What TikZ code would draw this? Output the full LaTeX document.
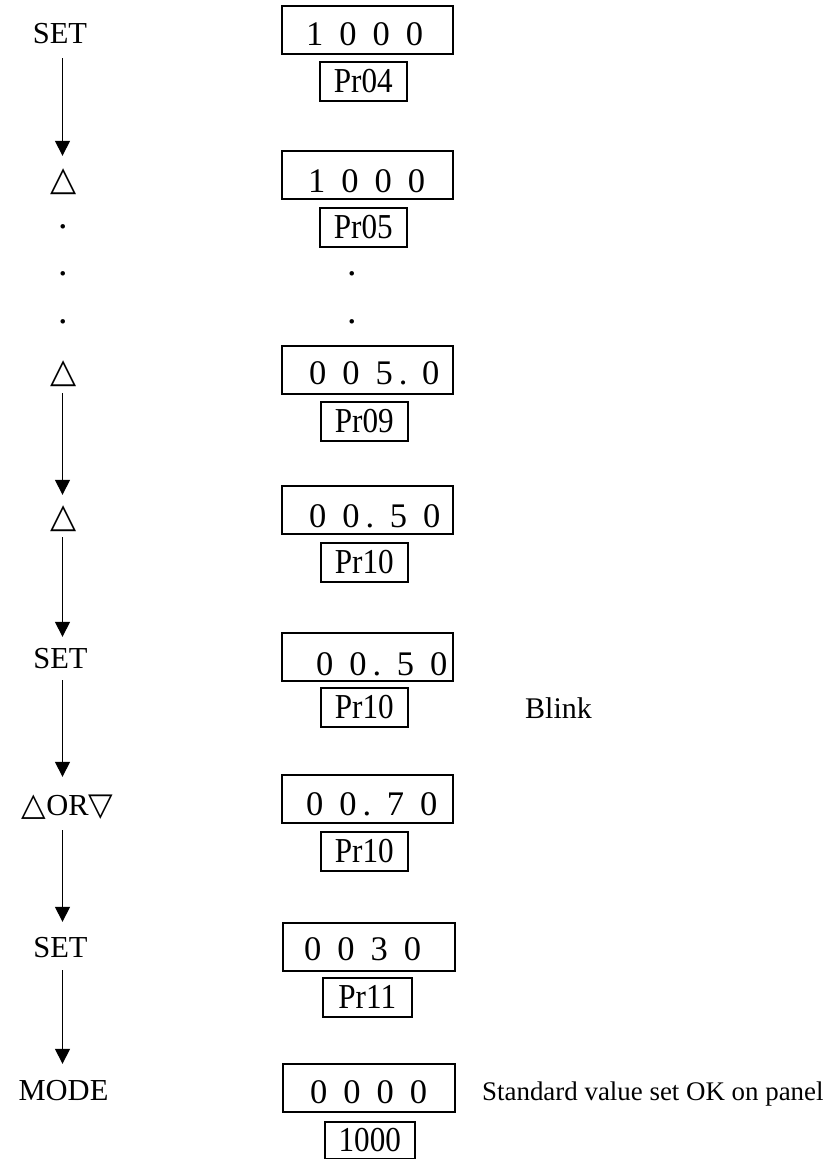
\documentclass[tikz,border=0pt]{standalone}
\usepackage{fontspec}
\setmainfont{Liberation Serif}
\newfontfamily\symfont{DejaVu Sans}
\usetikzlibrary{arrows.meta}
\newcommand{\cnd}[1]{\scalebox{0.89}[1]{#1}}
\newcommand{\gp}{\hspace{16pt}}
\begin{document}
\begin{tikzpicture}[x=1pt,y=-1pt,
  lbl/.style={font=\fontsize{30.5}{36}\selectfont, inner sep=0pt, text height=20pt, text depth=0pt, anchor=base},
  tri/.style={font=\symfont\fontsize{34}{40}\selectfont, inner sep=0pt, text height=24pt, text depth=0pt, anchor=base},
  flow/.style={line width=1.5pt, -{Triangle[width=15pt,length=15pt]}},
  disp/.style={draw, line width=1.5pt, minimum width=171pt, minimum height=48pt, inner sep=0pt, anchor=north west},
  prm/.style={draw, line width=1.5pt, minimum width=87pt, minimum height=39pt, inner sep=0pt, anchor=north west, font=\fontsize{35}{40}\selectfont},
  dig/.style={anchor=base west, inner sep=0pt, font=\fontsize{34.5}{40}\selectfont},
  dotc/.style={inner sep=0pt, font=\fontsize{38}{40}\selectfont},
  note/.style={anchor=base west, inner sep=0pt},
]
\useasboundingbox (0,0) rectangle (836,1159);
\coordinate (ax) at (62.5,0);

% left column
\node[lbl] (set1) at (60,43) {SET};
\node[tri] (up1) at (64,190) {△};
\node[dotc] (ld1) at (63,227) {.};
\node[dotc] (ld2) at (63,274) {.};
\node[dotc] (ld3) at (63,322) {.};
\node[tri] (up2) at (64,382) {△};
\node[tri] (up3) at (64,527) {△};
\node[lbl] (set2) at (60.5,668) {SET};
\node[lbl, text height=20pt] (updn) at (67.5,815) {{\symfont\fontsize{32}{36}\selectfont △}OR{\symfont\fontsize{32}{36}\selectfont ▽}};
\node[lbl] (set3) at (60.5,957) {SET};
\node[lbl] (mode) at (63.5,1100) {MODE};

\draw[flow, shorten <=15pt, shorten >=10pt] (set1.south -| ax) -- (up1.north -| ax);
\draw[flow, shorten <=11pt, shorten >=8pt] (up2.south -| ax) -- (up3.north -| ax);
\draw[flow, shorten <=10pt, shorten >=11pt] (up3.south -| ax) -- (set2.north -| ax);
\draw[flow, shorten <=12pt, shorten >=18pt] (set2.south -| ax) -- (updn.north -| ax);
\draw[flow, shorten <=15pt, shorten >=15pt] (updn.south -| ax) -- (set3.north -| ax);
\draw[flow, shorten <=13pt, shorten >=16pt] (set3.south -| ax) -- (mode.north -| ax);

% right column: displays
\node[disp] (b1) at (281,5) {};
\node[dig] (d1) at (306,45) {1\gp0\gp0\gp0};
\node[prm] (p1) at (319,61) {\cnd{Pr04}};

\node[disp] (b2) at (281,150) {};
\node[dig] (d2) at (308,192) {1\gp0\gp0\gp0};
\node[prm] (p2) at (319,207) {\cnd{Pr05}};

\node[dotc] (rd1) at (352,274) {.};
\node[dotc] (rd2) at (352,322) {.};

\node[disp] (b3) at (281,345) {};
\node[dig] (d3) at (309,384) {0\gp0\gp5\hspace{6pt}.\hspace{14.5pt}0};
\node[prm] (p3) at (320,401) {\cnd{Pr09}};

\node[disp] (b4) at (281,485) {};
\node[dig] (d4) at (309,527) {0\gp0\hspace{6pt}.\hspace{15.5pt}5\gp0};
\node[prm] (p4) at (320,542) {\cnd{Pr10}};

\node[disp] (b5) at (281,632) {};
\node[dig] (d5) at (316,675) {0\gp0\hspace{6pt}.\hspace{15.5pt}5\gp0};
\node[prm] (p5) at (320,687) {\cnd{Pr10}};
\node[note, font=\fontsize{30}{36}\selectfont] (blink) at (525,718) {Blink};

\node[disp] (b6) at (281,774) {};
\node[dig] (d6) at (306,815) {0\gp0\hspace{6pt}.\hspace{15.5pt}7\gp0};
\node[prm] (p6) at (320,831) {\cnd{Pr10}};

\node[disp, minimum width=172pt] (b7) at (282,922) {};
\node[dig] (d7) at (304,960) {0\gp0\gp3\gp0};
\node[prm, minimum width=89pt] (p7) at (322,977) {\cnd{Pr11}};

\node[disp, minimum width=172pt] (b8) at (282,1063) {};
\node[dig] (d8) at (310,1103) {0\gp0\gp0\gp0};
\node[prm, minimum width=90pt, minimum height=37pt] (p8) at (324,1121) {\cnd{1000}};
\node[note, font=\fontsize{26.9}{30}\selectfont] (std) at (482,1100) {Standard value set OK on panel};
\end{tikzpicture}
\end{document}
